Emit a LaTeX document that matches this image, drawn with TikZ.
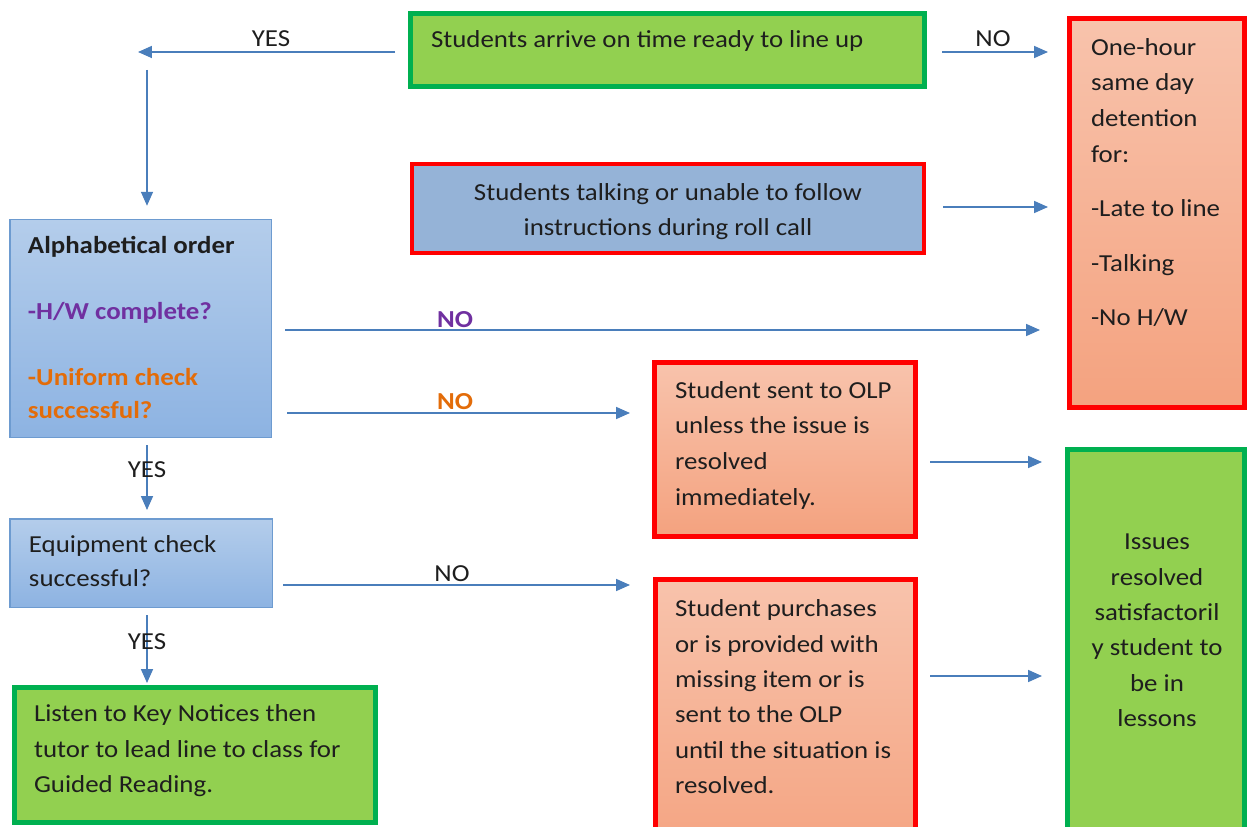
\documentclass[tikz,border=0pt]{standalone}
\usepackage{fontspec}
\setmainfont{Carlito}[FakeStretch=1.1]
\usetikzlibrary{arrows.meta,fit}
\newdimen\pxu \pxu=0.02cm
\definecolor{grfill}{HTML}{92D050}
\definecolor{grline}{HTML}{00B050}
\definecolor{rdline}{HTML}{FF0000}
\definecolor{pchtop}{HTML}{F8C3AC}
\definecolor{pchbot}{HTML}{F4A27F}
\definecolor{bluefill}{HTML}{95B3D7}
\definecolor{bluetop}{HTML}{B4CDEB}
\definecolor{bluebot}{HTML}{8DB3E2}
\definecolor{blueline}{HTML}{6D9BD0}
\definecolor{arrowblue}{HTML}{4A7EBB}
\definecolor{hwpurple}{HTML}{7030A0}
\definecolor{unorange}{HTML}{E36C09}
\definecolor{ink}{HTML}{1E1E1E}
\begin{document}
\begin{tikzpicture}[x=0.02cm,y=-0.02cm,
  box/.style={inner sep=0pt, outer sep=0pt, rectangle},
  greenbox/.style={box, draw=grline, fill=grfill, line width=5\pxu},
  redbox/.style={box, draw=rdline, top color=pchtop, bottom color=pchbot, line width=5\pxu},
  talkbox/.style={box, draw=rdline, fill=bluefill, line width=4\pxu},
  bluebox/.style={box, draw=blueline, top color=bluetop, bottom color=bluebot, line width=1.5\pxu},
  txt/.style={inner sep=0pt, outer sep=0pt, anchor=north west, align=left, text=ink,
    font=\fontsize{13.9}{20.13}\selectfont},
  ctxt/.style={txt, anchor=north, align=center},
  lbl/.style={inner sep=0pt, anchor=base, text=ink, font=\fontsize{13.9}{16}\selectfont},
  arr/.style={draw=arrowblue, line width=0.85pt, -{Triangle[length=7.9pt,width=6.8pt]}},
]
\useasboundingbox (0,0) rectangle (1250,827);
\clip (0,0) rectangle (1250,827);
\fill[white] (0,0) rectangle (1250,827);

% boxes (corners on the centre line of each border)
\node[greenbox, fit={(410.5,13.5) (924.5,86.5)}] (arrive) {};
\node[talkbox,  fit={(412,164) (924,253)}] (talk) {};
\node[redbox,   fit={(1069.5,18.5) (1244.5,407.5)}] (det) {};
\node[bluebox,  fit={(9.75,219.75) (271.25,437.25)}] (alpha) {};
\node[bluebox,  fit={(9.75,518.75) (272.25,607.25)}] (equip) {};
\node[greenbox, fit={(14.5,687.5) (375.5,822.5)}] (listen) {};
\node[redbox,   fit={(654.5,362.5) (915.5,536.5)}] (olp) {};
\node[redbox,   fit={(655.5,579.5) (915.5,870)}] (purch) {};
\node[greenbox, fit={(1067.5,449.5) (1244.5,870)}] (issues) {};

% box texts
\node[txt] (arrive-t) at (431,23) {\strut Students arrive on time ready to line up};
\node[ctxt, font=\fontsize{13.9}{19.84}\selectfont] (talk-t) at (668,176.5)
  {\strut Students talking or unable to follow\\instructions during roll call};
\node[txt, font=\fontsize{13.9}{20.41}\selectfont] (det-t) at (1091,30)
  {\strut One-hour\\same day\\detention\\for:\\[10.5pt]-Late to line\\[10.5pt]-Talking\\[10.5pt]-No H/W};
\node[txt, font=\bfseries\fontsize{13.9}{18.7}\selectfont] (alpha-t) at (28,231)
  {\strut Alphabetical order\\[18.7pt]\textcolor{hwpurple}{-H/W complete?}\\[18.7pt]%
   \textcolor{unorange}{-Uniform check}\\\textcolor{unorange}{successful?}};
\node[txt, font=\fontsize{13.9}{19.27}\selectfont] (equip-t) at (29,529)
  {\strut Equipment check\\successful?};
\node[txt] (listen-t) at (34,697)
  {\strut Listen to Key Notices then\\tutor to lead line to class for\\Guided Reading.};
\node[txt, font=\fontsize{13.9}{20.41}\selectfont] (olp-t) at (675,373)
  {\strut Student sent to OLP\\unless the issue is\\resolved\\immediately.};
\node[txt] (purch-t) at (675,592)
  {\strut Student purchases\\or is provided with\\missing item or is\\sent to the OLP\\until the situation is\\resolved.};
\node[ctxt] (issues-t) at (1157,525)
  {\strut Issues\\resolved\\satisfactoril\\y student to\\be in\\lessons};

% free ends of the first YES branch
\coordinate (yesL) at (138,52);
\coordinate (yesD) at (147,70);

% connectors
\draw[arr, shorten <=15.5\pxu] (arrive.west |- yesL) -- (yesL);
\draw[arr, shorten >=14\pxu] (yesD) -- (yesD |- alpha.north);
\draw[arr, shorten <=17.5\pxu, shorten >=21.5\pxu] (arrive.east |- yesL) -- (det.west |- yesL);
\draw[arr, shorten <=19\pxu, shorten >=21.5\pxu] (talk.east |- 0,207) -- (det.west |- 0,207);
\draw[arr, shorten <=13.75\pxu, shorten >=29.5\pxu] (alpha.east |- 0,330) -- (det.west |- 0,330);
\draw[arr, shorten <=15.75\pxu, shorten >=24.5\pxu] (alpha.east |- 0,413) -- (olp.west |- 0,413);
\draw[arr, shorten <=7.75\pxu, shorten >=8.75\pxu] (147,0 |- alpha.south) -- (147,0 |- equip.north);
\draw[arr, shorten <=10.75\pxu, shorten >=25.5\pxu] (equip.east |- 0,585) -- (purch.west |- 0,585);
\draw[arr, shorten <=7.75\pxu, shorten >=4.5\pxu] (147,0 |- equip.south) -- (147,0 |- listen.north);
\draw[arr, shorten <=14.5\pxu, shorten >=25.5\pxu] (olp.east |- 0,462) -- (issues.west |- 0,462);
\draw[arr, shorten <=14.5\pxu, shorten >=25.5\pxu] (purch.east |- 0,676) -- (issues.west |- 0,676);

% connector labels
\node[lbl] (l-yes1) at (271,47) {YES};
\node[lbl] (l-no1) at (993,47) {NO};
\node[lbl, text=hwpurple, font=\bfseries\fontsize{13.9}{16}\selectfont] (l-no2) at (455,328) {NO};
\node[lbl, text=unorange, font=\bfseries\fontsize{13.9}{16}\selectfont] (l-no3) at (455,409) {NO};
\node[lbl] (l-yes2) at (147,477) {YES};
\node[lbl] (l-no4) at (452,581) {NO};
\node[lbl] (l-yes3) at (147,649) {YES};
\end{tikzpicture}
\end{document}
